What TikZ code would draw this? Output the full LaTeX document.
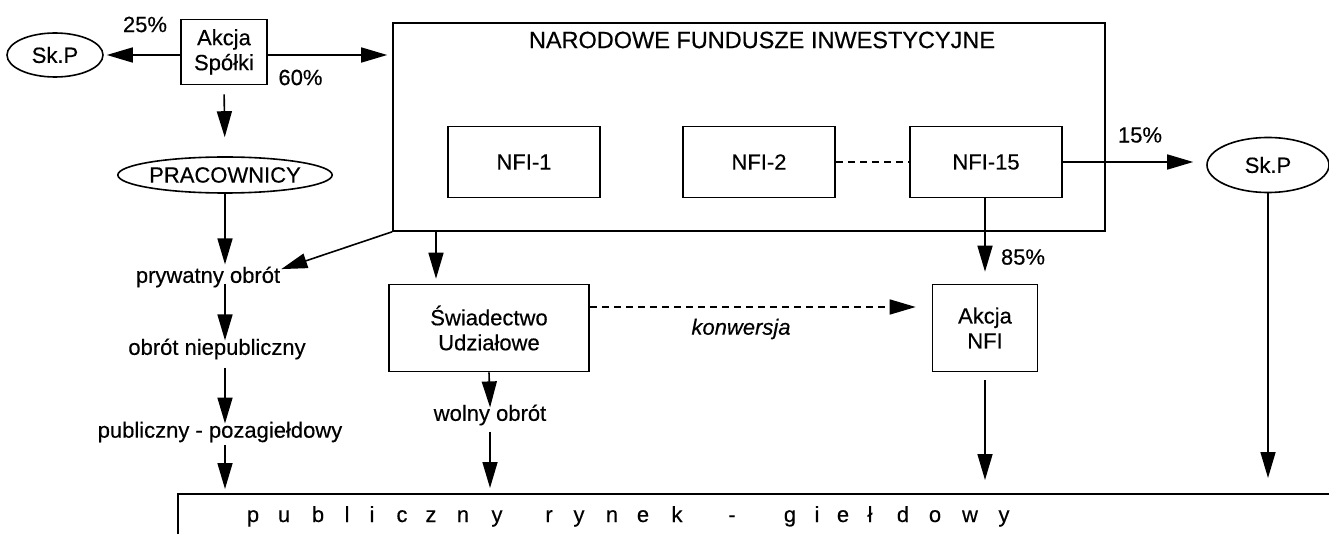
\documentclass[tikz,border=0pt]{standalone}
\usepackage{fontspec}
\setmainfont[FakeBold=0.4]{Liberation Sans}
\usetikzlibrary{shapes.geometric,arrows.meta}
\begin{document}
\begin{tikzpicture}[x=1pt,y=-1pt,
  every node/.style={font=\fontsize{22}{25}\selectfont, inner sep=0pt},
  box/.style={draw, line width=1.6pt, align=center},
  oval/.style={draw, ellipse, line width=1.6pt},
  arr/.style={-{Triangle[length=26pt,width=15pt]}, line width=1.6pt},
  dashline/.style={line width=1.5pt, dash pattern=on 7pt off 5pt},
  letter/.style={anchor=base}]
\useasboundingbox (0,0) rectangle (1329,534);
\clip (0,0) rectangle (1329,534);

% nodes
\node[oval, minimum width=96pt, minimum height=44pt] (skp1) at (55,55) {Sk.P};
\node[box, minimum width=86pt, minimum height=65pt] (akcja) at (224,52) {Akcja\\Spółki};
\node[oval, minimum width=190pt, minimum height=36pt] (prac) at (225,175) {PRACOWNICY};
\node[box, minimum width=712pt, minimum height=208pt] (nfi) at (749,127) {};
\node[font=\fontsize{23.5}{26}\selectfont] (title) at (762,40) {NARODOWE FUNDUSZE INWESTYCYJNE};
\node[box, minimum width=152pt, minimum height=71pt] (nfi1) at (524,162) {NFI-1};
\node[box, minimum width=152pt, minimum height=71pt] (nfi2) at (759,162) {NFI-2};
\node[box, minimum width=152pt, minimum height=71pt] (nfi15) at (986,162) {NFI-15};
\node[oval, minimum width=122pt, minimum height=55pt] (skp2) at (1268,165) {Sk.P};
\node (pryw) at (208,277) {prywatny obrót};
\node (niep) at (217,349) {obrót niepubliczny};
\node (poza) at (220,432) {publiczny - pozagiełdowy};
\node[box, minimum width=200pt, minimum height=87pt] (swiad) at (489,328) {Świadectwo\\Udziałowe};
\node (wolny) at (490,415) {wolny obrót};
\node[font=\fontsize{22}{25}\selectfont\itshape] (konw) at (741,329) {konwersja};
\node[box, minimum width=105pt, minimum height=87pt] (anfi) at (985,328) {Akcja\\NFI};
\node[draw, line width=1.8pt, anchor=north west, minimum width=1200pt, minimum height=100pt] (rynek) at (177,493) {};

% percentages
\node (p25) at (145,24.5) {25\%};
\node (p60) at (300.5,77.5) {60\%};
\node (p15) at (1140,135) {15\%};
\node (p85) at (1023,257) {85\%};

% spaced label of the market box
\foreach \xx/\ch [count=\k] in {253/p,284/u,318/b,347/l,372/i,402/c,431/z,463/n,497/y,
   549/r,579/y,612/n,643/e,677/k,732/-,
   790/g,817/i,843/e,870/ł,903/d,935/o,970/w,1004/y}
  \node[letter] (lt\k) at (\xx,522) {\ch};

% helper coordinate
\coordinate (sw1) at (436,0);

% connectors
\draw[arr, shorten >=3pt] ([yshift=-3pt]akcja.west) -- (skp1.east);
\draw[arr, shorten >=5pt] ([yshift=-3pt]akcja.east) -- (nfi.west |- skp1.center);
\draw[arr, shorten <=9pt, shorten >=19pt] (akcja.south) -- (prac.north);
\draw[arr, shorten >=2pt] (prac.south) -- (prac.south |- pryw.north);
\draw[arr, shorten <=-4pt, shorten >=-2pt] (prac.south |- pryw.south) -- (prac.south |- niep.north);
\draw[arr, shorten <=8pt, shorten >=-2pt] (prac.south |- niep.south) -- (prac.south |- poza.north);
\draw[arr, shorten <=3pt, shorten >=4pt] (prac.south |- poza.south) -- (prac.south |- rynek.north);
\draw[arr, shorten >=1pt] (nfi.south west) -- ([yshift=-3pt]pryw.north east);
\draw[arr, shorten >=5pt] (sw1 |- nfi.south) -- (sw1 |- swiad.north);
\draw[arr, shorten >=12pt] (nfi15.south -| anfi.north) -- (anfi.north);
\draw[arr, shorten >=13pt] (nfi15.east) -- ([yshift=3pt]skp2.west);
\draw[dashline] (nfi2.east) -- (nfi15.west);
\draw[dashline, arr, dash pattern=on 7pt off 5pt, shorten >=16pt] ([yshift=21pt]swiad.east) -- ([yshift=21pt]anfi.west);
\draw[arr, shorten >=-3pt] (swiad.south) -- (wolny.north);
\draw[arr, shorten <=6pt, shorten >=5pt] (wolny.south) -- (wolny.south |- rynek.north);
\draw[arr, shorten <=8pt, shorten >=13pt] (anfi.south) -- (anfi.south |- rynek.north);
\draw[arr, shorten >=15pt] (skp2.south) -- (skp2.south |- rynek.north);
\end{tikzpicture}
\end{document}
